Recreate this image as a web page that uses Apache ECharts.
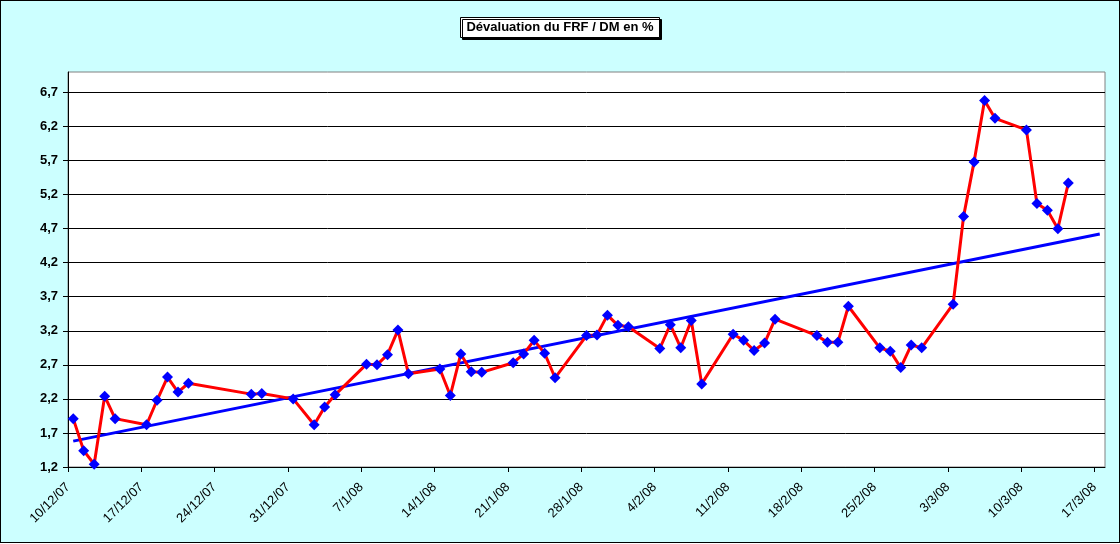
<!DOCTYPE html>
<html>
<head>
    <meta charset="utf-8">
    <title>Dévaluation du FRF / DM</title>
    <script src="https://cdn.jsdelivr.net/npm/echarts@6/dist/echarts.min.js"></script>
    <style>
        html, body { margin: 0; padding: 0; background: #fff; }
        #main { width: 1118px; height: 541px; border: 1px solid #000; }
    </style>
</head>
<body>
<div id="main"></div>
<script type="text/javascript">
    // dates de cotation (j/m/aa) et dévaluation en %
    var dates = [
        '10/12/07', '11/12/07', '12/12/07', '13/12/07', '14/12/07',
        '17/12/07', '18/12/07', '19/12/07', '20/12/07', '21/12/07',
        '27/12/07', '28/12/07', '31/12/07', '2/1/08', '3/1/08', '4/1/08',
        '7/1/08', '8/1/08', '9/1/08', '10/1/08', '11/1/08',
        '14/1/08', '15/1/08', '16/1/08', '17/1/08', '18/1/08',
        '21/1/08', '22/1/08', '23/1/08', '24/1/08', '25/1/08',
        '28/1/08', '29/1/08', '30/1/08', '31/1/08', '1/2/08',
        '4/2/08', '5/2/08', '6/2/08', '7/2/08', '8/2/08',
        '11/2/08', '12/2/08', '13/2/08', '14/2/08', '15/2/08',
        '19/2/08', '20/2/08', '21/2/08', '22/2/08',
        '25/2/08', '26/2/08', '27/2/08', '28/2/08', '29/2/08',
        '3/3/08', '4/3/08', '5/3/08', '6/3/08', '7/3/08',
        '10/3/08', '11/3/08', '12/3/08', '13/3/08', '14/3/08'
    ];
    var devaluation = [
        1.91, 1.44, 1.24, 2.24, 1.91,
        1.82, 2.18, 2.52, 2.30, 2.43,
        2.27, 2.28, 2.20, 1.82, 2.08, 2.26,
        2.71, 2.70, 2.85, 3.21, 2.57,
        2.64, 2.25, 2.86, 2.60, 2.59,
        2.73, 2.86, 3.06, 2.87, 2.51,
        3.13, 3.14, 3.43, 3.28, 3.26,
        2.94, 3.29, 2.95, 3.35, 2.42,
        3.15, 3.06, 2.91, 3.02, 3.37,
        3.13, 3.03, 3.03, 3.56,
        2.95, 2.90, 2.66, 2.99, 2.95,
        3.59, 4.88, 5.68, 6.58, 6.32,
        6.15, 5.07, 4.97, 4.70, 5.37
    ];
    // courbe de tendance (lue aux deux extrémités)
    var trendDates = ['10/12/07', '17/3/08'];
    var trendValues = [1.58, 4.62];
    // graduations de l'axe des y
    var yTicks = [1.2, 1.7, 2.2, 2.7, 3.2, 3.7, 4.2, 4.7, 5.2, 5.7, 6.2, 6.7];

    var origin = Date.UTC(2007, 11, 10);
    var DAY = 86400000;

    function dayIndex(s) {
        var p = s.split('/');
        return Math.round((Date.UTC(2000 + (+p[2]), +p[1] - 1, +p[0]) - origin) / DAY);
    }
    function dayLabel(d) {
        var t = new Date(origin + d * DAY);
        var yy = String(t.getUTCFullYear() % 100);
        if (yy.length < 2) yy = '0' + yy;
        return t.getUTCDate() + '/' + (t.getUTCMonth() + 1) + '/' + yy;
    }

    // Excel place les points au milieu du jour
    var mainData = dates.map(function (d, i) { return [dayIndex(d) + 0.5, devaluation[i]]; });
    var trendData = trendDates.map(function (d, i) { return [dayIndex(d) + 0.5, trendValues[i]]; });
    var xTicks = [];
    for (var k = 0; k <= 98; k += 7) xTicks.push(k);

    var font = 'Arial, "Liberation Sans", sans-serif';
    var myChart = echarts.init(document.getElementById('main'));

    var option = {
        backgroundColor: '#ccffff',
        animation: false,
        title: {
            text: 'Dévaluation du FRF / DM en %',
            left: 'center',
            top: 16,
            padding: [4, 6, 4, 6],
            backgroundColor: '#fff',
            borderColor: '#000',
            borderWidth: 1,
            shadowColor: '#000',
            shadowBlur: 0,
            shadowOffsetX: 2,
            shadowOffsetY: 2,
            textStyle: { fontFamily: font, fontSize: 13, fontWeight: 'bold', color: '#000' }
        },
        grid: {
            left: 67,
            top: 71,
            right: 14,
            bottom: 75,
            show: true,
            backgroundColor: '#fff',
            borderColor: '#808080',
            borderWidth: 1
        },
        xAxis: {
            type: 'value',
            min: 0,
            max: 99,
            interval: 7,
            axisLine: { lineStyle: { color: '#000', width: 1 } },
            axisTick: { customValues: xTicks, length: 5, lineStyle: { color: '#000' } },
            splitLine: { show: false },
            axisLabel: {
                customValues: xTicks,
                rotate: 45,
                margin: 18,
                fontFamily: font,
                fontSize: 13,
                color: '#000',
                formatter: function (v) { return dayLabel(v); }
            }
        },
        yAxis: {
            type: 'value',
            min: 1.2,
            max: 7.0,
            interval: 0.5,
            axisLine: { show: true, lineStyle: { color: '#000', width: 1 } },
            axisTick: { show: true, customValues: yTicks, length: 5, lineStyle: { color: '#000' } },
            splitLine: { show: true, lineStyle: { color: '#000', width: 1 } },
            axisLabel: {
                customValues: yTicks,
                margin: 10,
                fontFamily: font,
                fontSize: 13,
                fontWeight: 'bold',
                color: '#000',
                formatter: function (v) { return v.toFixed(1).replace('.', ','); }
            }
        },
        series: [
            {
                name: 'tendance',
                type: 'line',
                data: trendData,
                symbol: 'none',
                lineStyle: { color: '#0000ff', width: 3 },
                z: 2
            },
            {
                name: 'dévaluation',
                type: 'line',
                data: mainData,
                symbol: 'diamond',
                symbolSize: 11,
                lineStyle: { color: '#ff0000', width: 3 },
                itemStyle: { color: '#0000ff', borderWidth: 0 },
                z: 3
            }
        ]
    };

    myChart.setOption(option);
</script>
</body>
</html>
